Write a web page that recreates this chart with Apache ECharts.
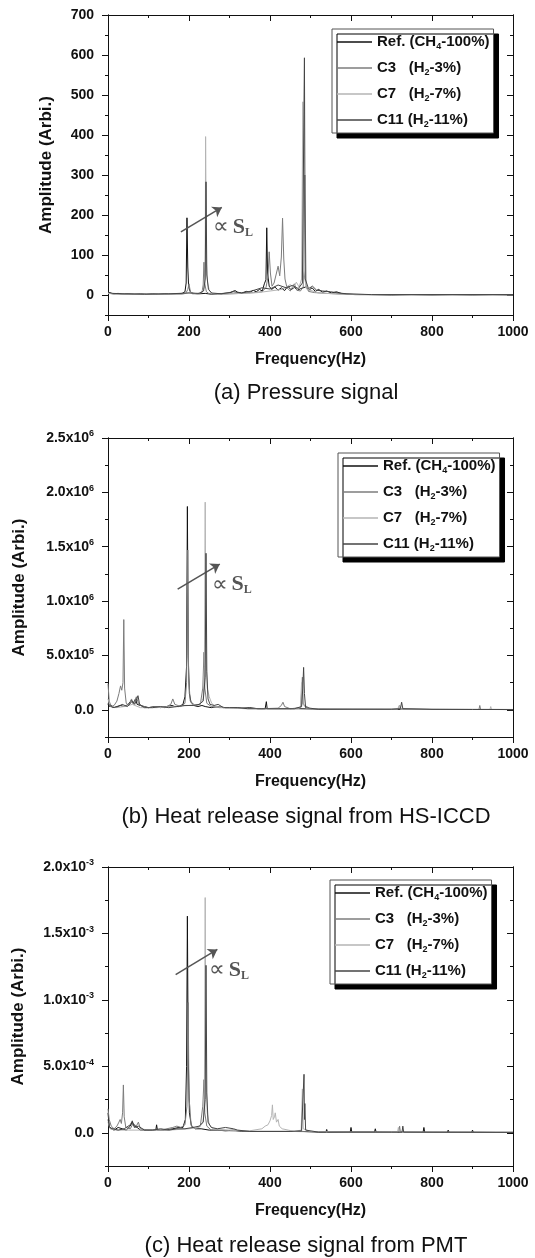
<!DOCTYPE html>
<html>
<head>
<meta charset="utf-8">
<title>Amplitude spectra</title>
<script src="https://cdn.jsdelivr.net/npm/echarts@6/dist/echarts.min.js"></script>
<style>
html, body { margin: 0; padding: 0; background: #fff; }
#main { width: 535px; height: 1258px; }
</style>
</head>
<body>
<div id="main"></div>
<script>
// [frequency (Hz), amplitude]

// (a) pressure, raw units
var pressureRef = [[0,8],[4,6],[8,4],[15,3],[25,4],[35,2],[50,3],[65,2],[80,3],[95,2],[110,3],[125,2],[140,3],[155,2],[170,3],[183,4],[190,8],[193,30],[195,193],[197,70],[199,22],[203,8],[210,4],[225,3],[240,4],[255,2],[270,3],[285,4],[300,5],[308,9],[314,11],[320,7],[330,5],[342,9],[350,6],[358,12],[366,8],[374,14],[381,10],[386,28],[390,38],[392,168],[394,55],[398,22],[404,14],[412,20],[420,12],[428,18],[436,11],[444,22],[452,13],[460,19],[468,12],[476,16],[488,20],[496,12],[504,18],[512,9],[520,14],[530,7],[540,10],[552,5],[564,8],[576,4],[590,2],[610,1],[650,1],[700,0],[750,1],[800,0],[850,1],[900,0],[950,1],[1000,0]];
var pressureC3 = [[0,6],[10,3],[30,2],[60,2],[100,2],[140,2],[180,2],[192,4],[197,14],[200,28],[203,10],[208,3],[222,3],[232,6],[235,25],[237,82],[239,28],[243,8],[250,3],[270,2],[300,3],[330,4],[360,6],[380,8],[390,18],[395,45],[398,108],[401,55],[405,22],[410,30],[416,55],[420,72],[424,48],[428,95],[431,192],[434,90],[437,40],[442,18],[450,10],[460,28],[466,12],[475,10],[482,20],[486,300],[489,25],[495,9],[510,6],[540,4],[580,2],[650,1],[800,1],[1000,1]];
var pressureC7 = [[0,4],[20,2],[60,2],[120,2],[180,2],[200,6],[220,3],[232,8],[237,18],[240,60],[241,396],[243,80],[246,30],[250,12],[256,4],[280,2],[330,4],[370,6],[400,10],[430,14],[450,26],[458,18],[465,32],[472,20],[478,40],[481,483],[483,60],[490,15],[520,5],[560,3],[620,1],[800,0],[1000,0]];
var pressureC11 = [[0,7],[12,4],[40,3],[90,2],[150,3],[200,5],[225,4],[236,10],[240,40],[242,283],[244,50],[248,14],[256,5],[280,3],[310,8],[330,5],[355,10],[380,18],[400,15],[420,25],[440,18],[455,24],[470,16],[480,30],[485,593],[487,40],[495,16],[505,22],[515,12],[530,10],[550,8],[570,5],[590,3],[650,1],[800,1],[1000,1]];

// (b) HS-ICCD, in units of 1e6
var iccdUnit = 1e6;
var iccdRef = [[0,0.05],[3,0.03],[8,0.04],[15,0.02],[22,0.03],[30,0.04],[40,0.03],[50,0.05],[58,0.09],[62,0.06],[68,0.1],[72,0.05],[80,0.04],[90,0.03],[100,0.02],[115,0.03],[130,0.02],[145,0.03],[158,0.04],[165,0.03],[175,0.03],[185,0.05],[190,0.12],[194,0.4],[196,1.87],[198,0.5],[201,0.15],[205,0.07],[212,0.04],[222,0.03],[232,0.04],[240,0.03],[255,0.02],[270,0.03],[290,0.02],[310,0.02],[330,0.015],[350,0.02],[370,0.01],[388,0.01],[391,0.075],[393,0.01],[410,0.01],[440,0.01],[470,0.01],[500,0.008],[550,0.005],[600,0.005],[700,0.004],[800,0.004],[900,0.003],[1000,0.003]];
var iccdC3 = [[0,0.24],[3,0.08],[8,0.03],[15,0.04],[22,0.08],[27,0.15],[31,0.22],[34,0.18],[37,0.25],[39,0.83],[41,0.2],[45,0.06],[52,0.04],[58,0.1],[63,0.05],[70,0.12],[75,0.06],[85,0.03],[100,0.02],[120,0.03],[140,0.02],[155,0.05],[160,0.1],[165,0.05],[180,0.03],[190,0.06],[194,0.25],[197,1.47],[199,0.3],[203,0.08],[215,0.04],[228,0.05],[234,0.2],[237,0.53],[239,0.2],[244,0.06],[255,0.03],[275,0.02],[300,0.02],[340,0.015],[380,0.01],[420,0.015],[428,0.04],[432,0.07],[436,0.03],[450,0.01],[476,0.02],[480,0.3],[482,0.05],[500,0.008],[600,0.005],[700,0.005],[717,0.01],[720,0.04],[723,0.01],[800,0.004],[916,0.004],[918,0.04],[920,0.004],[1000,0.003]];
var iccdC7 = [[0,0.1],[5,0.03],[20,0.02],[40,0.03],[60,0.05],[80,0.02],[120,0.02],[160,0.03],[200,0.04],[225,0.05],[235,0.1],[238,0.4],[240,1.91],[242,0.5],[245,0.2],[250,0.12],[256,0.06],[265,0.03],[290,0.02],[340,0.01],[400,0.01],[460,0.01],[475,0.02],[478,0.25],[480,0.06],[490,0.01],[600,0.004],[715,0.005],[719,0.04],[722,0.005],[800,0.003],[943,0.003],[945,0.03],[947,0.003],[1000,0.002]];
var iccdC11 = [[0,0.06],[4,0.04],[12,0.02],[25,0.03],[35,0.05],[48,0.03],[60,0.08],[66,0.05],[74,0.13],[78,0.05],[90,0.02],[110,0.02],[130,0.03],[150,0.02],[170,0.03],[190,0.04],[210,0.04],[225,0.05],[235,0.08],[240,0.3],[242,1.44],[244,0.35],[247,0.1],[252,0.05],[262,0.04],[272,0.05],[285,0.02],[300,0.02],[320,0.02],[345,0.01],[380,0.01],[420,0.01],[460,0.01],[478,0.03],[481,0.2],[483,0.39],[485,0.15],[488,0.02],[520,0.005],[600,0.005],[700,0.005],[722,0.01],[725,0.07],[728,0.01],[800,0.004],[900,0.003],[963,0.003],[965,0.02],[967,0.003],[1000,0.002]];

// (c) PMT, in units of 1e-3
var pmtUnit = 1e-3;
var pmtRef = [[0,0.15],[3,0.05],[8,0.03],[15,0.02],[25,0.04],[35,0.03],[45,0.02],[55,0.05],[60,0.08],[65,0.05],[72,0.04],[80,0.02],[95,0.02],[110,0.02],[118,0.02],[120,0.06],[122,0.02],[140,0.02],[160,0.03],[175,0.04],[185,0.04],[191,0.1],[194,0.5],[196,1.63],[198,0.6],[201,0.15],[206,0.05],[215,0.03],[230,0.03],[250,0.02],[270,0.02],[290,0.015],[310,0.02],[330,0.01],[360,0.01],[400,0.01],[440,0.01],[480,0.01],[520,0.005],[538,0.005],[540,0.025],[542,0.005],[598,0.005],[600,0.04],[602,0.005],[658,0.005],[660,0.03],[662,0.005],[700,0.004],[778,0.004],[780,0.04],[782,0.004],[838,0.004],[840,0.02],[842,0.004],[898,0.004],[900,0.02],[902,0.004],[958,0.003],[960,0.015],[962,0.003],[1000,0.003]];
var pmtC3 = [[0,0.18],[3,0.1],[8,0.05],[15,0.03],[22,0.05],[27,0.08],[30,0.1],[33,0.07],[36,0.15],[38,0.36],[40,0.12],[44,0.04],[55,0.03],[62,0.07],[70,0.05],[75,0.08],[80,0.03],[100,0.02],[130,0.02],[160,0.04],[170,0.05],[180,0.04],[190,0.06],[195,0.2],[198,0.98],[200,0.25],[202,0.2],[205,0.06],[215,0.03],[228,0.05],[234,0.2],[237,0.4],[239,0.15],[244,0.05],[255,0.02],[300,0.015],[350,0.01],[400,0.01],[450,0.01],[500,0.008],[600,0.005],[700,0.004],[718,0.004],[720,0.05],[722,0.004],[800,0.004],[1000,0.003]];
var pmtC7 = [[0,0.08],[5,0.03],[20,0.02],[50,0.02],[100,0.02],[150,0.02],[200,0.03],[225,0.04],[235,0.08],[238,0.3],[240,1.77],[242,0.4],[245,0.15],[250,0.06],[260,0.03],[300,0.02],[350,0.015],[380,0.03],[388,0.05],[395,0.06],[400,0.09],[404,0.13],[406,0.21],[408,0.1],[411,0.12],[413,0.15],[416,0.08],[420,0.1],[423,0.05],[430,0.03],[445,0.02],[460,0.01],[477,0.02],[480,0.33],[482,0.03],[500,0.01],[600,0.005],[715,0.005],[717,0.04],[719,0.005],[800,0.004],[1000,0.003]];
var pmtC11 = [[0,0.1],[4,0.04],[12,0.03],[25,0.02],[40,0.03],[55,0.06],[60,0.09],[65,0.04],[75,0.05],[90,0.02],[110,0.02],[130,0.03],[150,0.02],[170,0.03],[190,0.03],[210,0.04],[225,0.05],[235,0.08],[240,0.25],[242,1.26],[244,0.3],[247,0.08],[255,0.04],[270,0.03],[290,0.04],[310,0.03],[320,0.02],[350,0.01],[400,0.01],[450,0.01],[478,0.015],[482,0.02],[484,0.44],[485,0.1],[486,0.22],[488,0.02],[520,0.005],[600,0.005],[700,0.005],[726,0.005],[728,0.05],[730,0.005],[800,0.004],[1000,0.003]];

// tick labels
var pressureTicks = [0, 100, 200, 300, 400, 500, 600, 700];
var iccdTicks = [0, 5e5, 1e6, 1.5e6, 2e6, 2.5e6];
var pmtTicks = [0, 5e-4, 1e-3, 1.5e-3, 2e-3];

var seriesNames = ['Ref.', 'C3', 'C7', 'C11'];
var legendLabels = {
	'Ref.': 'Ref. (CH{s|4}-100%)',
	'C3': 'C3   (H{s|2}-3%)',
	'C7': 'C7   (H{s|2}-7%)',
	'C11': 'C11 (H{s|2}-11%)'
};
var captions = ['(a) Pressure signal', '(b) Heat release signal from HS-ICCD', '(c) Heat release signal from PMT'];

var font = '"Liberation Sans", Arial, sans-serif';
var serif = '"Liberation Serif", "Times New Roman", serif';
var ink = '#111';
var colors = ['#111111', '#7c7c7c', '#b4b4b4', '#454545'];

function scaled(arr, unit) {
	return arr.map(function (p) { return [p[0], p[1] * unit]; });
}

function sciLabel(v) {
	v = Number(v.toPrecision(6));
	if (Math.abs(v) < 1e-12) return '{m|0.0}';
	var e = Math.floor(Math.log10(Math.abs(v)));
	var m = v / Math.pow(10, e);
	return '{m|' + m.toFixed(1) + 'x10}{e|' + e + '}';
}

var panels = [
	{ top: 15, height: 300, min: -50, max: 700, step: 50, ticks: pressureTicks, sci: false, nameGap: 53,
	  data: [pressureRef, pressureC3, pressureC7, pressureC11], unit: 1,
	  legendLeft: 332, legendTop: 29, capY: 393,
	  arrow: [[180, 158], [281, 219]], note: [259, 170] },
	{ top: 438, height: 299, min: -2.5e5, max: 2.5e6, step: 2.5e5, ticks: iccdTicks, sci: true, nameGap: 80,
	  data: [iccdRef, iccdC3, iccdC7, iccdC11], unit: iccdUnit,
	  legendLeft: 338, legendTop: 453, capY: 817,
	  arrow: [[172, 1.11e6], [276, 1.34e6]], note: [256, 1.15e6] },
	{ top: 867, height: 299, min: -2.5e-4, max: 2e-3, step: 2.5e-4, ticks: pmtTicks, sci: true, nameGap: 81,
	  data: [pmtRef, pmtC3, pmtC7, pmtC11], unit: pmtUnit,
	  legendLeft: 330, legendTop: 880, capY: 1246,
	  arrow: [[167, 1.19e-3], [270, 1.38e-3]], note: [249, 1.22e-3] }
];

var grids = [], xAxes = [], yAxes = [], series = [], legends = [], graphics = [];

var lineStyle = { color: ink, width: 1 };
var labelStyle = { fontFamily: font, fontWeight: 'bold', fontSize: 14, color: ink };

panels.forEach(function (p, i) {
	grids.push({ left: 108, width: 405, top: p.top, height: p.height });

	// bottom + mirrored top frequency axis
	[false, true].forEach(function (isTop) {
		xAxes.push({
			type: 'value', gridIndex: i, position: isTop ? 'top' : 'bottom',
			min: 0, max: 1000, interval: 200,
			name: isTop ? '' : 'Frequency(Hz)', nameLocation: 'middle', nameGap: 37,
			nameTextStyle: { fontFamily: font, fontWeight: 'bold', fontSize: 16, color: ink },
			axisLine: { onZero: false, lineStyle: lineStyle },
			axisTick: { inside: isTop, length: 6, lineStyle: lineStyle },
			minorTick: { show: true, splitNumber: 2, length: 3, lineStyle: lineStyle },
			axisLabel: isTop ? { show: false } : Object.assign({
				margin: 10,
				formatter: function (v) { return String(Math.round(v)); }
			}, labelStyle),
			splitLine: { show: false }, minorSplitLine: { show: false }
		});
	});

	// left + mirrored right amplitude axis; each side = minor-tick axis + major-tick overlay
	['left', 'right'].forEach(function (side) {
		var inside = side === 'right';
		yAxes.push({
			type: 'value', gridIndex: i, position: side, min: p.min, max: p.max, interval: p.step,
			name: side === 'left' ? 'Amplitude (Arbi.)' : '', nameLocation: 'middle', nameGap: p.nameGap,
			nameTextStyle: { fontFamily: font, fontWeight: 'bold', fontSize: 17, color: ink },
			axisLine: { onZero: false, lineStyle: lineStyle },
			axisTick: { inside: inside, length: 3, lineStyle: lineStyle },
			axisLabel: side === 'left' ? Object.assign({
				margin: 14,
				formatter: function (v) {
					var major = p.ticks.some(function (t) { return Math.abs(t - v) < p.step * 1e-3; });
					if (!major) return '';
					return p.sci ? sciLabel(v) : '{m|' + Math.round(v) + '}';
				},
				rich: {
					m: { fontFamily: font, fontWeight: 'bold', fontSize: 14, color: ink },
					e: { fontFamily: font, fontWeight: 'bold', fontSize: 9, color: ink, padding: [0, 0, 8, 0] }
				}
			}, labelStyle) : { show: false },
			splitLine: { show: false }
		});
		yAxes.push({
			type: 'value', gridIndex: i, position: side, min: p.min, max: p.max, interval: p.step,
			axisLine: { onZero: false, lineStyle: lineStyle },
			axisTick: { inside: inside, length: 6, customValues: p.ticks, lineStyle: lineStyle },
			axisLabel: { show: false },
			splitLine: { show: false }
		});
	});

	p.data.forEach(function (d, k) {
		var s = {
			type: 'line', name: seriesNames[k], xAxisIndex: 2 * i, yAxisIndex: 4 * i,
			data: scaled(d, p.unit), symbol: 'none', showSymbol: false,
			lineStyle: { color: colors[k], width: 1 }, itemStyle: { color: colors[k] },
			z: 2 + k, animation: false
		};
		if (k === 0) {
			// the "∝ S_L" arrow and note, placed in data space
			s.markLine = {
				silent: true, symbol: ['none', 'arrow'], symbolSize: 9, animation: false,
				lineStyle: { color: '#555', width: 1.5, type: 'solid' },
				label: { show: false },
				data: [[{ coord: [p.arrow[0][0], p.arrow[0][1]] }, { coord: [p.arrow[1][0], p.arrow[1][1]] }]]
			};
			s.markPoint = {
				silent: true, symbol: 'circle', symbolSize: 1, animation: false,
				itemStyle: { color: 'rgba(0,0,0,0)' },
				label: {
					show: true, position: 'right', distance: 0,
					formatter: '{p|\u221d} {s|S}{l|L}',
					rich: {
						p: { fontFamily: serif, fontSize: 22, color: '#555' },
						s: { fontFamily: serif, fontSize: 22, fontWeight: 'bold', color: '#555' },
						l: { fontFamily: serif, fontSize: 12, fontWeight: 'bold', color: '#555', padding: [11, 0, 0, 0] }
					}
				},
				data: [{ coord: [p.note[0], p.note[1]] }]
			};
		}
		series.push(s);
	});

	legends.push({
		orient: 'vertical', left: p.legendLeft, top: p.legendTop,
		data: seriesNames, icon: 'rect', itemWidth: 35, itemHeight: 1.5, itemGap: 9,
		selectedMode: false,
		padding: [5, 4, 4, 5],
		backgroundColor: '#fff', borderColor: '#555', borderWidth: 1,
		shadowColor: '#000', shadowBlur: 0, shadowOffsetX: 5, shadowOffsetY: 5,
		formatter: function (name) { return legendLabels[name]; },
		textStyle: {
			fontFamily: font, fontWeight: 'bold', fontSize: 15, color: ink, lineHeight: 16,
			rich: { s: { fontFamily: font, fontWeight: 'bold', fontSize: 9, color: ink, padding: [9, 0, 0, 0] } }
		}
	});

	graphics.push({
		type: 'text', x: 306, y: p.capY, silent: true,
		style: { text: captions[i], font: '22px ' + font, fill: ink, textAlign: 'center', textVerticalAlign: 'middle' }
	});
});

var chart = echarts.init(document.getElementById('main'));
chart.setOption({
	animation: false,
	backgroundColor: '#fff',
	grid: grids,
	xAxis: xAxes,
	yAxis: yAxes,
	legend: legends,
	series: series,
	graphic: graphics
});

window.onresize = function () {
	chart.resize();
};
</script>
</body>
</html>
